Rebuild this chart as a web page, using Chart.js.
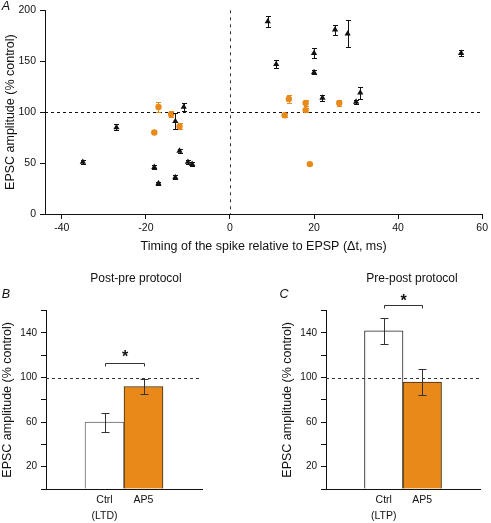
<!DOCTYPE html>
<html>
<head>
<meta charset="utf-8">
<script src="https://cdn.jsdelivr.net/npm/chart.js@4.4.1/dist/chart.umd.min.js"></script>
<style>
  body { margin: 0; background: #fff; }
  #wrap { position: relative; width: 491px; height: 523px; font-family: 'Liberation Sans', Arial, sans-serif; color: #111; }
  .box { position: absolute; }
  .lbl { position: absolute; transform: translate(-50%, -50%); white-space: nowrap; line-height: 1; }
  .panel { font-style: italic; font-size: 12.5px; }
  .ttl { font-size: 12px; }
</style>
</head>
<body>
<div id="wrap">
  <div class="box" style="left:0;top:0;width:491px;height:262px"><canvas id="scatter"></canvas></div>
  <div class="box" style="left:0;top:260px;width:245px;height:263px"><canvas id="postPre"></canvas></div>
  <div class="box" style="left:245px;top:260px;width:246px;height:263px"><canvas id="prePost"></canvas></div>
  <span class="lbl panel" style="left:6px;top:6px">A</span>
  <span class="lbl panel" style="left:6px;top:294px">B</span>
  <span class="lbl panel" style="left:284px;top:294px">C</span>
  <span class="lbl ttl" style="left:136px;top:278px">Post-pre protocol</span>
  <span class="lbl ttl" style="left:412px;top:278px">Pre-post protocol</span>
</div>
<script>
  // panel A: spike timing vs EPSC amplitude
  const ctrlX = [-35, -27, -18, -17, -13, -13, -12, -11, -10, -9, 9, 11, 20, 20, 22, 25, 28, 30, 31, 55];
  const ctrlY = [51, 85, 46, 30, 91, 36, 62, 105, 51, 49, 189, 147, 158, 139, 114, 181, 177, 110, 119, 158];
  const ctrlErr = [2, 3, 2, 1.5, 8, 2, 2, 4, 2, 2, 5, 4, 5, 2, 3, 5, 13.5, 2, 6, 3];
  const ap5X = [-18, -17, -14, -12, 13, 14, 18, 18, 19, 26];
  const ap5Y = [80, 105, 98, 86, 97, 113, 109, 102, 49, 109];
  const ap5Err = [1.5, 5, 3, 3, 2, 4, 3, 2, 1, 3];
  const xTicks = [-40, -20, 0, 20, 40, 60];
  const yTicks = [0, 50, 100, 150, 200];

  // panels B and C: means and SEM
  const postPreCats = [['Ctrl', '(LTD)'], 'AP5'];
  const postPreMean = [60, 92];
  const postPreErr = [8.5, 7];
  const prePostCats = [['Ctrl', '(LTP)'], 'AP5'];
  const prePostMean = [142, 96];
  const prePostErr = [11.5, 12];
  const barTicks = [0, 20, 40, 60, 80, 100, 120, 140, 160];
  const barTickLabels = [20, 60, 100, 140];

  const orange = '#e8891a';
  const ink = '#111';
  const yTitle = 'EPSC amplitude (% control)';
  Chart.defaults.font.family = "'Liberation Sans', Arial, sans-serif";
  Chart.defaults.color = ink;

  const errorBars = {
    id: 'errorBars',
    afterDatasetsDraw(chart) {
      const ctx = chart.ctx;
      chart.data.datasets.forEach((ds, i) => {
        if (!ds.errors) return;
        const meta = chart.getDatasetMeta(i);
        const yS = chart.scales[meta.yAxisID];
        ctx.save();
        ctx.strokeStyle = ds.errColor;
        ctx.lineWidth = 1;
        meta.data.forEach((el, j) => {
          const err = ds.errors[j];
          if (err == null) return;
          const v = meta.controller.getParsed(j).y;
          const x = Math.round(el.x) + 0.5;
          const y1 = Math.round(yS.getPixelForValue(v + err)) + 0.5;
          const y2 = Math.round(yS.getPixelForValue(v - err)) + 0.5;
          ctx.beginPath();
          ctx.moveTo(x, y1); ctx.lineTo(x, y2);
          ctx.moveTo(x - ds.cap, y1); ctx.lineTo(x + ds.cap, y1);
          ctx.moveTo(x - ds.cap, y2); ctx.lineTo(x + ds.cap, y2);
          ctx.stroke();
        });
        ctx.restore();
      });
    }
  };

  function drawRef(chart, o) {
    const {ctx, chartArea: a, scales} = chart;
    ctx.save();
    ctx.lineWidth = 1;
    ctx.strokeStyle = o.color || ink;
    if (o.y != null) {
      const y = Math.round(scales.y.getPixelForValue(o.y)) + 0.5;
      ctx.setLineDash([3, 3]);
      ctx.beginPath(); ctx.moveTo(a.left, y); ctx.lineTo(a.right, y); ctx.stroke();
    }
    if (o.x != null) {
      const x = Math.round(scales.x.getPixelForValue(o.x)) + 0.5;
      ctx.setLineDash([3, 4]);
      ctx.strokeStyle = '#333';
      ctx.beginPath(); ctx.moveTo(x, a.top); ctx.lineTo(x, a.bottom); ctx.stroke();
    }
    ctx.restore();
  }
  const refLines = {
    id: 'refLines',
    beforeDatasetsDraw(chart, args, o) { if (!o.onTop) drawRef(chart, o); },
    afterDatasetsDraw(chart, args, o) { if (o.onTop) drawRef(chart, o); }
  };

  const sigBracket = {
    id: 'sigBracket',
    afterDatasetsDraw(chart, args, o) {
      if (o.level == null) return;
      const ctx = chart.ctx;
      const meta = chart.getDatasetMeta(0);
      const yS = chart.scales.y;
      const x1 = Math.round(meta.data[o.from].x) + 0.5;
      const x2 = Math.round(meta.data[o.to].x) + 0.5;
      const y = Math.round(yS.getPixelForValue(o.level)) + 0.5;
      ctx.save();
      ctx.strokeStyle = '#333';
      ctx.lineWidth = 1;
      ctx.beginPath();
      ctx.moveTo(x1, y + 3); ctx.lineTo(x1, y); ctx.lineTo(x2, y); ctx.lineTo(x2, y + 3);
      ctx.stroke();
      ctx.fillStyle = ink;
      ctx.font = "bold 16px 'Liberation Sans', Arial, sans-serif";
      ctx.textAlign = 'center';
      ctx.textBaseline = 'alphabetic';
      ctx.fillText('*', (x1 + x2) / 2, yS.getPixelForValue(o.star) + 0.57 * 16);
      ctx.restore();
    }
  };

  const axisGrid = {drawOnChartArea: false, tickLength: 5, color: ink};

  new Chart(document.getElementById('scatter'), {
    type: 'scatter',
    data: {
      datasets: [{
        label: 'Ctrl',
        data: ctrlX.map((x, i) => ({x: x, y: ctrlY[i]})),
        errors: ctrlErr, errColor: ink, cap: 2.5,
        pointStyle: 'triangle', pointRadius: 3.6,
        backgroundColor: ink, borderColor: ink, borderWidth: 0
      }, {
        label: 'AP5',
        data: ap5X.map((x, i) => ({x: x, y: ap5Y[i]})),
        errors: ap5Err, errColor: orange, cap: 2.5,
        pointStyle: 'circle', pointRadius: 3.2,
        backgroundColor: orange, borderColor: orange, borderWidth: 0
      }]
    },
    options: {
      responsive: true,
      maintainAspectRatio: false,
      animation: false,
      layout: {padding: {left: 0, top: 5, right: 5, bottom: 0}},
      plugins: {
        legend: {display: false},
        tooltip: {enabled: false},
        refLines: {y: 100, x: 0}
      },
      scales: {
        x: {
          type: 'linear', min: -44, max: 60,
          afterBuildTicks: s => { s.ticks = xTicks.map(v => ({value: v})); },
          afterFit: s => { s.height = 48; },
          ticks: {font: {size: 10.5}, padding: 3, maxRotation: 0},
          grid: axisGrid,
          border: {color: ink},
          title: {display: true, text: 'Timing of the spike relative to EPSP (\u0394t, ms)', font: {size: 12.5}, padding: {top: 0, bottom: 8}}
        },
        y: {
          min: 0, max: 200,
          afterBuildTicks: s => { s.ticks = yTicks.map(v => ({value: v})); },
          afterFit: s => { s.width = 45; },
          ticks: {font: {size: 10.5}, padding: 4},
          grid: axisGrid,
          border: {color: ink},
          title: {display: true, text: yTitle, font: {size: 12.5}, padding: {top: 3, bottom: 0}}
        }
      }
    },
    plugins: [errorBars, refLines]
  });

  function barChart(id, cats, means, errs, ctrlBorder, pad, yWidth, titlePad, sig) {
    return new Chart(document.getElementById(id), {
      type: 'bar',
      data: {
        labels: [''].concat(cats, ['']),
        datasets: [{
          data: [null].concat(means, [null]),
          errors: [null].concat(errs, [null]),
          errColor: '#333', cap: 4,
          backgroundColor: ['#fff', '#fff', orange, '#fff'],
          borderColor: [ctrlBorder, ctrlBorder, '#3a2a14', ctrlBorder],
          borderWidth: 1,
          barPercentage: 1,
          categoryPercentage: 1
        }]
      },
      options: {
        responsive: true,
        maintainAspectRatio: false,
        animation: false,
        layout: {padding: pad},
        plugins: {
          legend: {display: false},
          tooltip: {enabled: false},
          refLines: {y: 100, onTop: true, color: '#333'},
          sigBracket: sig
        },
        scales: {
          x: {
            afterFit: s => { s.height = 34; },
            ticks: {font: {size: 10.5, lineHeight: 1.55}, padding: 3, maxRotation: 0, autoSkip: false},
            grid: {display: false, drawTicks: false},
            border: {color: ink}
          },
          y: {
            min: 0, max: 160,
            afterBuildTicks: s => { s.ticks = barTicks.map(v => ({value: v})); },
            afterFit: s => { s.width = yWidth; },
            ticks: {font: {size: 10}, padding: 4, autoSkip: false,
              callback: v => barTickLabels.includes(v) ? String(v) : ''},
            grid: axisGrid,
            border: {color: ink},
            title: {display: true, text: yTitle, font: {size: 12.5}, padding: {top: titlePad, bottom: 0}}
          }
        }
      },
      plugins: [errorBars, refLines, sigBracket]
    });
  }

  barChart('postPre', postPreCats, postPreMean, postPreErr, '#666',
    {left: 0, top: 50.7, right: 43, bottom: 0}, 46, 0,
    {from: 1, to: 2, level: 113, star: 122});
  barChart('prePost', prePostCats, prePostMean, prePostErr, '#222',
    {left: 32, top: 50.7, right: 11, bottom: 0}, 49, 3,
    {from: 1, to: 2, level: 165, star: 172.6});
</script>
</body>
</html>
